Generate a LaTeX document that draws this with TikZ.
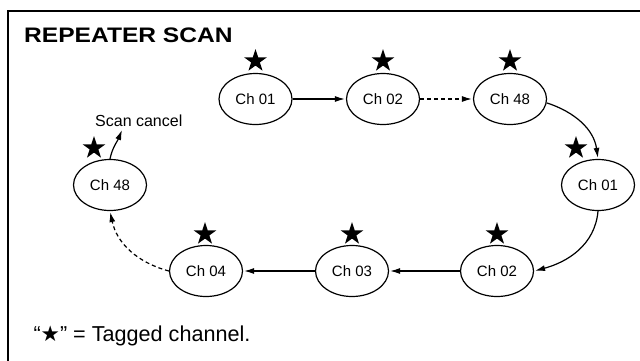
\documentclass[tikz,border=0pt]{standalone}
\usepackage{fontspec}
\setmainfont{Liberation Sans}
\newfontfamily\symfont{DejaVu Sans}
\usetikzlibrary{shapes.geometric,arrows.meta}
\begin{document}
\begin{tikzpicture}[x=1pt,y=-1pt,
  chan/.style={ellipse,draw,line width=1.2pt,minimum width=73pt,minimum height=51pt,inner sep=0pt,font=\fontsize{15}{15}\selectfont},
  tagstar/.style={star,star points=5,star point ratio=2.618,minimum size=24pt,inner sep=0pt,fill=black,draw=none},
  flow/.style={line width=1.2pt,-{Latex[length=10pt,width=6pt]},shorten >=1pt},
  dflow/.style={flow,dash pattern=on 4pt off 3pt}]
\useasboundingbox (0,0) rectangle (640,360);
\fill[white] (0,0) rectangle (640,360);
\draw[line width=2pt] (8,362) -- (8,11) -- (642,11);
\node[anchor=base west,inner sep=0pt] (title) at (24,42.3) {\scalebox{1.17}[1]{\fontsize{21}{21}\selectfont\bfseries REPEATER SCAN}};
% channels
\node[chan] (c1) at (255.5,99) {Ch 01};
\node[chan] (c2) at (383,99) {Ch 02};
\node[chan] (c48) at (510,99) {Ch 48};
\node[chan] (c1r) at (598,185) {Ch 01};
\node[chan] (c2b) at (497,271) {Ch 02};
\node[chan] (c3) at (352,271) {Ch 03};
\node[chan] (c4) at (206,271) {Ch 04};
\node[chan] (c48l) at (110,185) {Ch 48};
% stars
\node[tagstar] (s1) at (255.5,61) {};
\node[tagstar] (s2) at (383,61) {};
\node[tagstar] (s3) at (510,61) {};
\node[tagstar] (s4) at (576,148) {};
\node[tagstar] (s5) at (497,234) {};
\node[tagstar] (s6) at (352,234) {};
\node[tagstar] (s7) at (205,234) {};
\node[tagstar] (s8) at (94,148) {};
% arrows
\draw[flow] (c1.east) -- (c2.west);
\draw[dflow] (c2.east) -- (c48.west);
\draw[flow] (c48.-6) to[out=-18,in=98] (c1r.north);
\draw[flow] (c1r.south) to[out=-95,in=15] (c2b.east);
\draw[flow] (c2b.west) -- (c3.east);
\draw[flow] (c3.west) -- (c4.east);
\draw[dflow] (c4.west) to[out=165,in=-78] (c48l.south);
\node[anchor=base west,inner sep=0pt,font=\fontsize{16}{16}\selectfont] (sc) at (95,126) {Scan cancel};
\coordinate (sctip) at (122,130);
\draw[flow,shorten >=0pt] (c48l.north) to[out=78,in=-112] (sctip);
\node[anchor=base west,inner sep=0pt,font=\fontsize{21.6}{21.6}\selectfont] (legend) at (33.3,341.7) {“{\symfont ★}” = Tagged channel.};
\end{tikzpicture}
\end{document}
